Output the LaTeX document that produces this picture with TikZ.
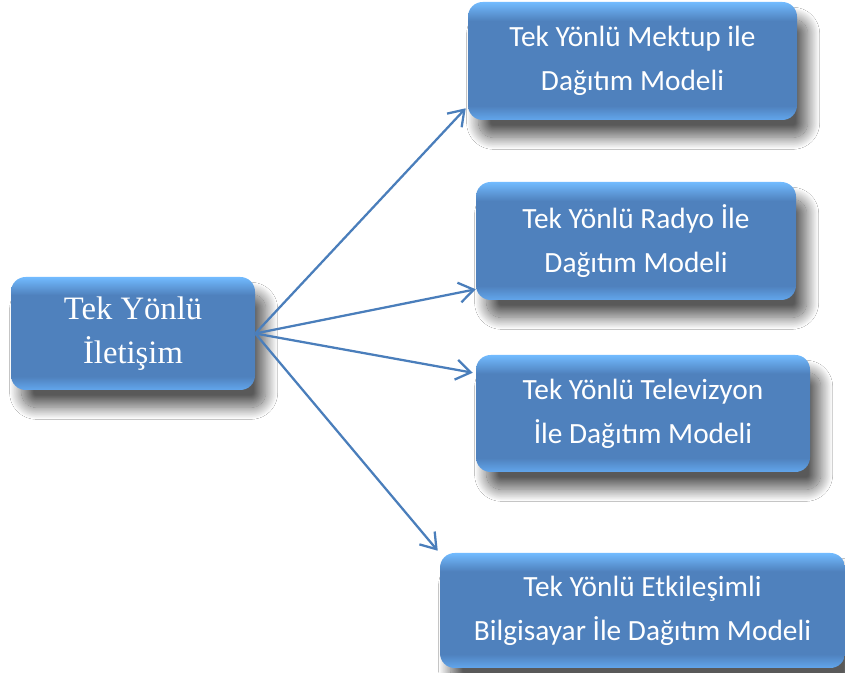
\documentclass[tikz,border=0pt]{standalone}
\usepackage{fontspec}
\setmainfont{Liberation Serif}
\newfontfamily\calibri{Carlito}
\usetikzlibrary{arrows.meta, shadows.blur, calc}
\definecolor{boxMid}{HTML}{4F81BD}
\definecolor{boxTop}{HTML}{72BBFF}
\definecolor{boxBot}{HTML}{62A6EC}
\definecolor{arrowBlue}{HTML}{4A7EBB}
\pgfdeclareverticalshading{bevel}{100bp}{%
  color(0bp)=(boxBot); color(25bp)=(boxBot); color(31bp)=(boxMid);
  color(67bp)=(boxMid); color(75bp)=(boxTop); color(100bp)=(boxTop)}
\tikzset{
  kutu/.style     = {rectangle, rounded corners=11pt, shading=bevel, text=white,
                     align=center, inner sep=0pt,
                     blur shadow={shadow xshift=8pt, shadow yshift=-13pt,
                                  shadow blur radius=9pt, shadow blur steps=30,
                                  shadow opacity=65}},
  anakutu/.style  = {kutu, font=\fontsize{24.5}{33}\selectfont},
  modelkutu/.style= {kutu, font=\calibri\fontsize{22}{33}\selectfont},
  ok/.style       = {-{Straight Barb[length=11pt, width=15pt]}, arrowBlue,
                     line width=1.7pt},
}
\begin{document}
\begin{tikzpicture}[x=0.75pt, y=0.75pt]
  \useasboundingbox[fill=white] (0,0) rectangle (845,673);
  % source box
  \node[anakutu, minimum width=183pt, minimum height=84.75pt]
    (kaynak) at (133,339.5) {Tek Yönlü\\İletişim};
  % distribution models
  \node[modelkutu, minimum width=246.75pt, minimum height=88.5pt]
    (mektup) at (632.5,612) {Tek Yönlü Mektup ile\\Dağıtım Modeli};
  \node[modelkutu, minimum width=240pt, minimum height=88.5pt]
    (radyo) at (636,432) {Tek Yönlü Radyo İle\\Dağıtım Modeli};
  \node[modelkutu, minimum width=250.5pt, minimum height=87.75pt]
    (tv) at (643,259.5) {Tek Yönlü Televizyon\\İle Dağıtım Modeli};
  \node[modelkutu, minimum width=303.75pt, minimum height=86.25pt]
    (bilgisayar) at (642.5,62.5) {Tek Yönlü Etkileşimli\\Bilgisayar İle Dağıtım Modeli};
  % arrows
  \draw[ok] (kaynak.east) -- ($(mektup.south west)+(-2,12)$);
  \draw[ok] (kaynak.east) -- ($(radyo.south west)+(0,11)$);
  \draw[ok] (kaynak.east) -- ($(tv.north west)+(-3,-18)$);
  \draw[ok] (kaynak.east) -- ($(bilgisayar.north west)+(-2,2)$);
\end{tikzpicture}
\end{document}
